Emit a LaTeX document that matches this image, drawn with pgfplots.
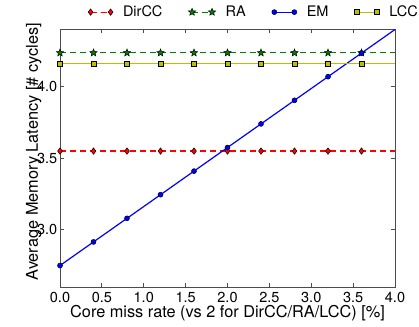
\documentclass[border=0pt]{standalone}
\usepackage{pgfplots}
\pgfplotsset{compat=1.18}
\usepackage{fontspec}
\setmainfont{TeX Gyre Heros}
\definecolor{mred}{rgb}{1,0,0}
\definecolor{mgreen}{rgb}{0,0.5,0}
\definecolor{mblue}{rgb}{0,0,1}
\definecolor{myellow}{rgb}{0.75,0.75,0}
\pgfdeclareplotmark{fstar}{%
  \pgfpathmoveto{\pgfpointpolar{90}{\pgfplotmarksize}}%
  \pgfpathlineto{\pgfpointpolar{126}{0.45\pgfplotmarksize}}%
  \pgfpathlineto{\pgfpointpolar{162}{\pgfplotmarksize}}%
  \pgfpathlineto{\pgfpointpolar{198}{0.45\pgfplotmarksize}}%
  \pgfpathlineto{\pgfpointpolar{234}{\pgfplotmarksize}}%
  \pgfpathlineto{\pgfpointpolar{270}{0.45\pgfplotmarksize}}%
  \pgfpathlineto{\pgfpointpolar{306}{\pgfplotmarksize}}%
  \pgfpathlineto{\pgfpointpolar{342}{0.45\pgfplotmarksize}}%
  \pgfpathlineto{\pgfpointpolar{18}{\pgfplotmarksize}}%
  \pgfpathlineto{\pgfpointpolar{54}{0.45\pgfplotmarksize}}%
  \pgfpathclose
  \pgfusepathqfillstroke}
\begin{document}
\begin{tikzpicture}[font=\fontsize{14.5}{17}\selectfont]
\useasboundingbox (0,0) rectangle (419pt,326pt);
\begin{axis}[
  at={(60pt,39pt)}, anchor=south west,
  scale only axis, width=335pt, height=257.5pt,
  xmin=0, xmax=4.0, ymin=2.6, ymax=4.4,
  xtick={0,0.5,...,4.0}, ytick={3.0,3.5,4.0},
  ticklabel style={font=\fontsize{14.5}{17}\selectfont, inner sep=0pt},
  xticklabel style={anchor=base, yshift=-15.5pt, /pgf/number format/.cd,fixed,fixed zerofill,precision=1},
  yticklabel style={anchor=east, xshift=-2.5pt, /pgf/number format/.cd,fixed,fixed zerofill,precision=1},
  /pgf/number format/assume math mode=true,
  tick align=inside, major tick length=4pt,
  tick style={black!70, line width=0.8pt},
  axis line style={black!70, line width=1pt},
  xlabel={Core miss rate (vs 2 for DirCC/RA/LCC) [\%]},
  ylabel={Average Memory Latency [\# cycles]},
  label style={font=\fontsize{16.3}{19}\selectfont, inner sep=0pt},
  xlabel style={at={(axis description cs:0.5,-0.1196)}, anchor=base},
  ylabel style={yshift=-4.5pt, xshift=6.5pt},
  legend columns=4,
  legend style={draw=none, fill=none, at={(axis description cs:0,1)}, anchor=south west, yshift=7pt, xshift=25pt,
    font=\fontsize{14.5}{17}\selectfont,
    /tikz/every odd column/.append style={column sep=8pt},
    /tikz/every even column/.append style={column sep=24pt}},
  legend cell align=left,
  legend image code/.code={\draw[#1, mark indices={1,3}] plot coordinates {(0pt,0pt) (10pt,0pt) (20pt,0pt)};},
  every axis plot/.append style={line width=1.2pt},
]
\addplot[color=mred, draw=mred, dash pattern=on 6pt off 4pt, mark=diamond*, mark size=3.2pt, mark indices={1,2,...,10},
  mark options={solid, fill=mred, draw=black, line width=0.5pt}] coordinates {
(0,3.55)(0.4,3.55)(0.8,3.55)(1.2,3.55)(1.6,3.55)(2.0,3.55)(2.4,3.55)(2.8,3.55)(3.2,3.55)(3.6,3.55)(4.0,3.55)};
\addlegendentry{DirCC}
\addplot[color=mgreen, draw=mgreen, dash pattern=on 6pt off 4pt, mark=fstar, mark size=3.8pt, mark indices={1,2,...,10},
  mark options={solid, draw=black, fill=mgreen, line width=0.5pt}] coordinates {
(0,4.237)(0.4,4.237)(0.8,4.237)(1.2,4.237)(1.6,4.237)(2.0,4.237)(2.4,4.237)(2.8,4.237)(3.2,4.237)(3.6,4.237)(4.0,4.237)};
\addlegendentry{RA}
\addplot[color=mblue, draw=mblue, mark=*, mark size=2.5pt, mark indices={1,2,...,10},
  mark options={solid, fill=mblue, draw=black, line width=0.5pt}] coordinates {
(0,2.75)(0.4,2.915)(0.8,3.08)(1.2,3.245)(1.6,3.41)(2.0,3.575)(2.4,3.74)(2.8,3.905)(3.2,4.07)(3.6,4.235)(4.0,4.4)};
\addlegendentry{EM}
\addplot[color=myellow, draw=myellow, mark=square*, mark size=2.4pt, mark indices={1,2,...,10},
  mark options={solid, fill=myellow, draw=black, line width=0.5pt}] coordinates {
(0,4.163)(0.4,4.163)(0.8,4.163)(1.2,4.163)(1.6,4.163)(2.0,4.163)(2.4,4.163)(2.8,4.163)(3.2,4.163)(3.6,4.163)(4.0,4.163)};
\addlegendentry{LCC}
\end{axis}
\end{tikzpicture}
\end{document}
